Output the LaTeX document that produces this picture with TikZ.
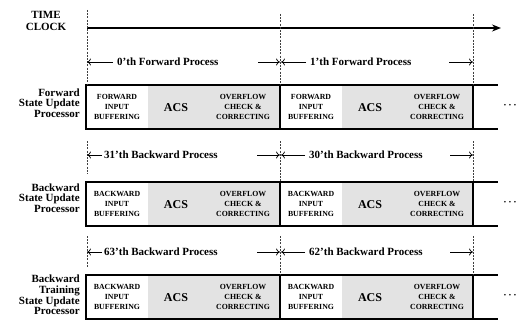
\documentclass[tikz,border=0pt]{standalone}
\usepackage{fontspec}
\setmainfont{Liberation Serif}
\usetikzlibrary{arrows.meta}
\newcommand\mycell[4]{% #1 left x, #2 top y, #3 name, #4 first word
  \fill[shadearea] (#1+62,#2) rectangle (#1+193,#2+44);
  \node[small] (#3in) at (#1+31,#2+22) {#4\\INPUT\\BUFFERING};
  \node[acs] (#3acs) at (#1+90,#2+23) {ACS};
  \node[small] (#3ov) at (#1+157,#2+22) {OVERFLOW\\CHECK \&\\CORRECTING};
}
\newcommand\myrow[3]{% #1 top y, #2 name, #3 first word
  \mycell{86}{#1}{#2a}{#3}
  \mycell{280}{#1}{#2b}{#3}
  \draw[boxline] (86,#1) rectangle (473,#1+44);
  \draw[boxline] (280,#1) -- (280,#1+44);
  \draw[extline] (473,#1) -- (498,#1);
  \draw[extline] (473,#1+44) -- (498,#1+44);
  \node[dotsnode] (#2dots) at (510,#1+21) {·\,·\,·};
}
\begin{document}
\begin{tikzpicture}[x=1pt,y=-1pt,
  lbl/.style={font=\bfseries\fontsize{11}{10.6}\selectfont, align=right, anchor=east, inner sep=0},
  proc/.style={font=\bfseries\fontsize{11}{12}\selectfont, inner sep=0, anchor=west},
  small/.style={font=\bfseries\fontsize{7.8}{10}\selectfont, align=center, inner sep=0},
  acs/.style={font=\bfseries\fontsize{12}{12}\selectfont, inner sep=0},
  dotsnode/.style={font=\bfseries\fontsize{10}{10}\selectfont, inner sep=0},
  vdash/.style={line width=0.6pt, dash pattern=on 2pt off 1.2pt, black!75},
  boxline/.style={line width=1.8pt},
  extline/.style={line width=1.3pt},
  parr/.style={line width=0.7pt, -{To[length=4pt,width=7pt]}},
  shadearea/.style={fill=black!11},
]
\useasboundingbox (0,0) rectangle (532,321);

% time clock
\node[font=\bfseries\fontsize{11}{12.5}\selectfont, align=center, inner sep=0] (tc) at (46,21) {TIME\\CLOCK};
\coordinate (t0) at (87,28);
\coordinate (t1) at (501,28);
\draw[line width=1.8pt, -{Stealth[length=9pt,width=7pt]}] (t0) -- (t1);

% rows
\myrow{85}{r1}{FORWARD}
\myrow{182}{r2}{BACKWARD}
\myrow{275}{r3}{BACKWARD}

% left labels
\node[lbl] (l1) at (80,103) {Forward\\State Update\\Processor};
\node[lbl] (l2) at (80,198) {Backward\\State Update\\Processor};
\node[lbl] (l3) at (80,295) {Backward\\Training\\State Update\\Processor};

% dashed guide lines
\coordinate (a0) at (87,62);  \coordinate (a1) at (280,62);  \coordinate (a2) at (473,62);
\coordinate (b0) at (87,155); \coordinate (b1) at (280,155); \coordinate (b2) at (473,155);
\coordinate (c0) at (87,252); \coordinate (c1) at (280,252); \coordinate (c2) at (473,252);
\draw[vdash] (87,10) -- (87,85);
\draw[vdash] (280,14) -- (280,85);
\draw[vdash] (473,14) -- (473,85);
\draw[vdash] (87,141) -- (87,174);
\draw[vdash] (280,141) -- (280,182);
\draw[vdash] (473,141) -- (473,182);
\draw[vdash] (87,236) -- (87,267);
\draw[vdash] (280,236) -- (280,275);
\draw[vdash] (473,236) -- (473,275);

% process arrows row 1
\node[proc] (p0) at (117,62) {0'th Forward Process};
\node[proc] (p1) at (310,62) {1'th Forward Process};
\coordinate (p0r) at (258,62); \coordinate (p1r) at (449,62);
\draw[parr] ([xshift=-4pt]p0.west) -- (a0);
\draw[parr] (p0r) -- (a1);
\draw[parr] ([xshift=-4pt]p1.west) -- ([xshift=1pt]a1);
\draw[parr] (p1r) -- (a2);

% row 2
\node[proc] (q0) at (104,155) {31'th Backward Process};
\node[proc] (q1) at (309,155) {30'th Backward Process};
\coordinate (q0r) at (257,155); \coordinate (q1r) at (450,155);
\draw[parr] ([xshift=-2pt]q0.west) -- (b0);
\draw[parr] (q0r) -- (b1);
\draw[parr] ([xshift=-4pt]q1.west) -- ([xshift=1pt]b1);
\draw[parr] (q1r) -- (b2);

% row 3
\node[proc] (s0) at (104,252) {63'th Backward Process};
\node[proc] (s1) at (309,252) {62'th Backward Process};
\coordinate (s0r) at (257,252); \coordinate (s1r) at (450,252);
\draw[parr] ([xshift=-2pt]s0.west) -- (c0);
\draw[parr] (s0r) -- (c1);
\draw[parr] ([xshift=-4pt]s1.west) -- ([xshift=1pt]c1);
\draw[parr] (s1r) -- (c2);
\end{tikzpicture}
\end{document}
